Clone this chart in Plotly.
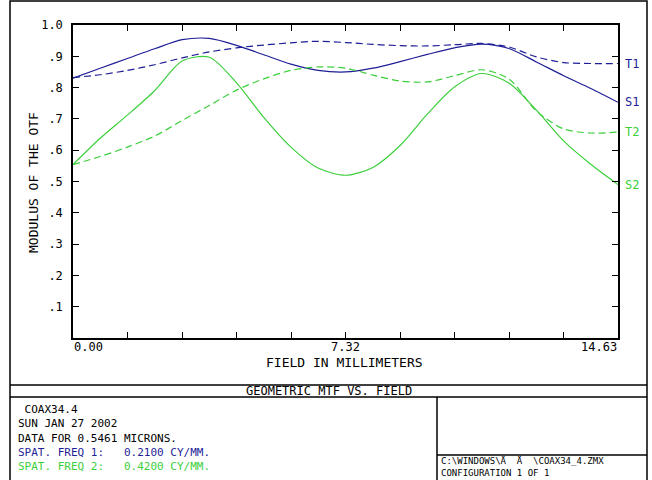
import numpy as np
import plotly.graph_objects as go

# ---------------- data ----------------
field_mm = [0.00, 0.73, 1.46, 2.19, 2.93, 3.66, 4.39, 5.12, 5.85, 6.58, 7.32,
            8.05, 8.78, 9.51, 10.24, 10.97, 11.70, 12.44, 13.17, 13.90, 14.63]
s1 = [0.830, 0.862, 0.893, 0.924, 0.953, 0.957, 0.935, 0.905, 0.875, 0.855, 0.850,
      0.862, 0.883, 0.906, 0.927, 0.939, 0.925, 0.882, 0.838, 0.797, 0.753]
t1 = [0.832, 0.841, 0.855, 0.873, 0.895, 0.914, 0.927, 0.936, 0.943, 0.948, 0.944,
      0.938, 0.934, 0.933, 0.937, 0.941, 0.930, 0.898, 0.880, 0.877, 0.877]
s2 = [0.554, 0.638, 0.712, 0.790, 0.885, 0.897, 0.815, 0.705, 0.610, 0.543, 0.520,
      0.545, 0.615, 0.715, 0.802, 0.845, 0.815, 0.728, 0.630, 0.555, 0.490]
t2 = [0.554, 0.580, 0.610, 0.645, 0.695, 0.743, 0.792, 0.828, 0.855, 0.866, 0.862,
      0.840, 0.821, 0.818, 0.838, 0.857, 0.828, 0.725, 0.668, 0.655, 0.658]

ytick_vals = [0.1, 0.2, 0.3, 0.4, 0.5, 0.6, 0.7, 0.8, 0.9, 1.0]
ytick_text = [".1", ".2", ".3", ".4", ".5", ".6", ".7", ".8", ".9", "1.0"]
xtick_label_vals = [0.00, 7.32, 14.63]
xtick_label_text = ["0.00", "7.32", "14.63"]

title_text = "GEOMETRIC MTF VS. FIELD"
info_lines = ["\u00a0COAX34.4", "SUN JAN 27 2002", "DATA FOR 0.5461 MICRONS."]
freq_lines = ["SPAT. FREQ 1:\u00a0\u00a0\u00a00.2100 CY/MM.",
              "SPAT. FREQ 2:\u00a0\u00a0\u00a00.4200 CY/MM."]
file_text = "C:\\WINDOWS\\Ä\u00a0\u00a0Ä\u00a0\u00a0\\COAX34_4.ZMX"
config_text = "CONFIGURATION 1 OF 1"

# ---------------- style ----------------
BLUE = "#1e1e96"
GREEN = "#3ccf3c"
FONT = "DejaVu Sans Mono"
W, H = 652, 480
L, R, T, B = 73, 34, 25, 142
PW, PH = W - L - R, H - T - B


def px(x):
    return (x - L) / PW


def py(y):
    return (H - B - y) / PH


fig = go.Figure()
series = [("S1", s1, BLUE, "solid"), ("T1", t1, BLUE, "7px,4px"),
          ("S2", s2, GREEN, "solid"), ("T2", t2, GREEN, "7px,4px")]
for name, vals, col, dash in series:
    fig.add_trace(go.Scatter(x=field_mm, y=vals, mode="lines", name=name,
                             line=dict(color=col, width=1.2, dash=dash,
                                       shape="spline", smoothing=0.8)))
    fig.add_annotation(x=1.0, xref="paper", y=vals[-1], yref="y", text=name,
                       showarrow=False, xanchor="left", xshift=5,
                       font=dict(family=FONT, size=12, color=col))

xt = np.linspace(0, 14.63, 11)
fig.update_xaxes(range=[0, 14.63], showgrid=False, zeroline=False, showline=True,
                 linecolor="black", linewidth=1.5, mirror="ticks", ticks="inside",
                 ticklen=6, tickcolor="black", tickvals=xt, showticklabels=False)
fig.update_yaxes(range=[0, 1.0], showgrid=False, zeroline=False, showline=True,
                 linecolor="black", linewidth=1.5, mirror="ticks", ticks="inside",
                 ticklen=6, tickcolor="black", tickvals=ytick_vals, ticktext=ytick_text,
                 ticklabelstandoff=6,
                 tickfont=dict(family=FONT, size=12, color="black"))

for v, t, anc in zip(xtick_label_vals, xtick_label_text, ["left", "center", "right"]):
    fig.add_annotation(x=v, xref="x", y=py(347), yref="paper", text=t, showarrow=False,
                       xanchor=anc, yanchor="middle", borderpad=0,
                       font=dict(family=FONT, size=12, color="black"))

fig.add_annotation(x=px(344), xref="paper", y=py(362), yref="paper",
                   text="FIELD IN MILLIMETERS", showarrow=False, yanchor="middle",
                   borderpad=0, font=dict(family=FONT, size=13, color="black"))
fig.add_annotation(x=px(33), xref="paper", y=py(183), yref="paper",
                   text="MODULUS OF THE OTF", showarrow=False, textangle=-90,
                   xanchor="center", yanchor="middle",
                   font=dict(family=FONT, size=13, color="black"))

# frame lines
line = dict(color="black", width=1.5)
shapes = [
    dict(type="rect", xref="paper", yref="paper", x0=px(10), x1=px(647), y0=py(481), y1=py(1), line=line),
    dict(type="line", xref="paper", yref="paper", x0=px(10), x1=px(647), y0=py(385), y1=py(385), line=line),
    dict(type="line", xref="paper", yref="paper", x0=px(10), x1=px(647), y0=py(397), y1=py(397), line=line),
    dict(type="line", xref="paper", yref="paper", x0=px(437), x1=px(437), y0=py(397), y1=py(481), line=line),
    dict(type="line", xref="paper", yref="paper", x0=px(437), x1=px(647), y0=py(455), y1=py(455), line=line),
]
fig.update_layout(shapes=shapes)

fig.add_annotation(x=px(329), xref="paper", y=py(391), yref="paper", text=title_text,
                   showarrow=False, yanchor="middle", borderpad=0,
                   font=dict(family=FONT, size=12, color="black"))

block = "<br>".join(info_lines + [
    f"<span style='color:{BLUE}'>{freq_lines[0]}</span>",
    f"<span style='color:{GREEN}'>{freq_lines[1]}</span>",
])
fig.add_annotation(x=px(17), xref="paper", y=py(402), yref="paper", text=block,
                   showarrow=False, xanchor="left", yanchor="top", align="left",
                   borderpad=0, font=dict(family=FONT, size=11, color="black"))

fig.add_annotation(x=px(440), xref="paper", y=py(467), yref="paper",
                   text=file_text + "<br>" + config_text,
                   showarrow=False, xanchor="left", yanchor="middle", align="left",
                   borderpad=0, font=dict(family=FONT, size=9, color="black"))

fig.update_layout(width=W, height=H, margin=dict(l=L, r=R, t=T, b=B, autoexpand=False),
                  paper_bgcolor="white", plot_bgcolor="white", showlegend=False)

fig.write_html("out.html", config={"displayModeBar": False},
               post_script="document.body.style.margin='0';document.body.style.overflow='hidden';")
